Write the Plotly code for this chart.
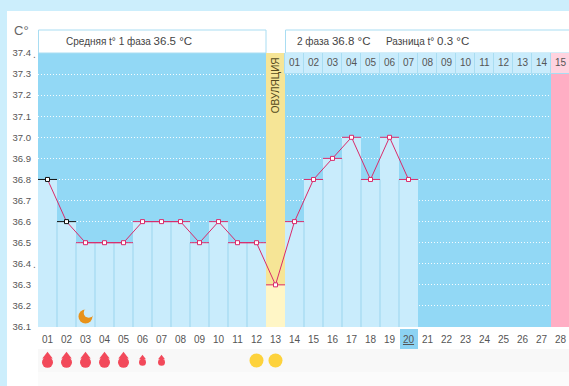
import plotly.graph_objects as go

W, H = 569, 386
days = list(range(1, 29))
day_labels = [f"{d:02d}" for d in days]
measured_days = list(range(1, 21))
temps = [36.8, 36.6, 36.5, 36.5, 36.5, 36.6, 36.6, 36.6, 36.5, 36.6,
         36.5, 36.5, 36.3, 36.6, 36.8, 36.9, 37.0, 36.8, 37.0, 36.8]
first_black = 2
ovulation_day = 13
pink_day = 28
today = 20
phase2_days = list(range(14, 29))
phase2_labels = [f"{i:02d}" for i in range(1, 16)]
y_ticks = [37.4, 37.3, 37.2, 37.1, 37.0, 36.9, 36.8, 36.7, 36.6, 36.5, 36.4, 36.3, 36.2, 36.1]
y_min, y_max = 36.1, 37.4
flow_big_days = [1, 2, 3, 4, 5]
flow_small_days = [6, 7]
sun_days = [12, 13]
moon_day = [3]
moon_temp = [36.15]

BG = "#92D8F5"; BAR = "#C9ECFC"; SEP = "#9BD5EE"; LINE = "#D92B6B"
YEL = "#F6E596"; YEL_L = "#FFF6C6"; PINK = "#FFAEC4"; PINK_L = "#FFD3DF"
SUN = "#FDD23C"; DROP = "#F2495A"; TXT = "#555555"; FONT = "Liberation Sans, Arial, sans-serif"


def px(x):
    return x / W


def py(y):
    return 1 - y / H


fig = go.Figure()
# column bars
fig.add_bar(x=[pink_day], y=[y_max - y_min], base=y_min, width=1, marker=dict(color=PINK, line_width=0))
fig.add_bar(x=[ovulation_day], y=[y_max - y_min], base=y_min, width=1, marker=dict(color=YEL, line_width=0))
bar_colors = [YEL_L if d == ovulation_day else BAR for d in measured_days]
fig.add_bar(x=measured_days, y=[t - y_min for t in temps], base=y_min, width=1,
            marker=dict(color=bar_colors, line_width=0))
# separators between bars
sx, sy = [], []
for i in range(len(temps) - 1):
    if measured_days[i] in (ovulation_day - 1, ovulation_day):
        continue
    sx += [measured_days[i] + 0.5, measured_days[i] + 0.5, None]
    sy += [y_min, min(temps[i], temps[i + 1]), None]
fig.add_scatter(x=sx, y=sy, mode="lines", line=dict(color=SEP, width=1))
# phase 2 header cells
cell_colors = [PINK_L if d == pink_day else BAR for d in phase2_days]
fig.add_bar(x=phase2_days, y=[0.1] * len(phase2_days), base=37.3, width=1,
            marker=dict(color=cell_colors, line=dict(color="#A9DDF2", width=1)))
fig.add_scatter(x=phase2_days, y=[37.35] * len(phase2_days), text=phase2_labels, mode="text",
                textfont=dict(family=FONT, size=10, color=TXT))
# temperature line
fig.add_scatter(x=measured_days, y=temps, mode="lines", line=dict(color=LINE, width=1))
fig.add_scatter(x=measured_days[first_black:], y=temps[first_black:], mode="markers",
                marker=dict(symbol="square", size=4, color="white", line=dict(color=LINE, width=1)),
                error_x=dict(type="constant", value=0.5, thickness=1, width=0, color=LINE))
fig.add_scatter(x=measured_days[:first_black], y=temps[:first_black], mode="markers",
                marker=dict(symbol="square", size=4, color="white", line=dict(color="#111111", width=1)),
                error_x=dict(type="constant", value=0.5, thickness=1, width=0, color="#111111"))
# moon
fig.add_scatter(x=moon_day, y=moon_temp, mode="markers", marker=dict(size=14, color="#E8921A"))
fig.add_scatter(x=[d + 0.17 for d in moon_day], y=[t + 0.018 for t in moon_temp], mode="markers",
                marker=dict(size=10, color=BAR))
# top sun
fig.add_scatter(x=[ovulation_day], y=[37.457], mode="markers", cliponaxis=False,
                marker=dict(size=15, color=SUN))
# icon row
fig.add_scatter(x=flow_big_days, y=[0.42] * 5, yaxis="y2", mode="markers", marker=dict(size=11, color=DROP))
fig.add_scatter(x=flow_big_days, y=[0.68] * 5, yaxis="y2", mode="markers",
                marker=dict(symbol="triangle-up", size=9, color=DROP))
fig.add_scatter(x=flow_small_days, y=[0.42] * 2, yaxis="y2", mode="markers", marker=dict(size=7, color=DROP))
fig.add_scatter(x=flow_small_days, y=[0.62] * 2, yaxis="y2", mode="markers",
                marker=dict(symbol="triangle-up", size=6, color=DROP))
fig.add_scatter(x=sun_days, y=[0.5] * 2, yaxis="y2", mode="markers", marker=dict(size=14, color=SUN))

shapes = [
    dict(type="rect", xref="paper", yref="paper", x0=-0.01, x1=px(7), y0=-0.01, y1=1.01,
         fillcolor="#CCEEFC", line_width=0, layer="below"),
    dict(type="rect", xref="paper", yref="paper", x0=-0.01, x1=1.01, y0=py(11), y1=1.01,
         fillcolor="#CCEEFC", line_width=0, layer="below"),
    dict(type="rect", xref="paper", yref="paper", x0=px(38.5), x1=px(266), y0=py(53), y1=py(30),
         fillcolor="white", line=dict(color="#A9DDF2", width=1), layer="below"),
    dict(type="rect", xref="paper", yref="paper", x0=px(285.5), x1=1.01, y0=py(53), y1=py(30),
         fillcolor="white", line=dict(color="#A9DDF2", width=1), layer="below"),
    dict(type="rect", xref="paper", yref="paper", x0=px(38), x1=1, y0=py(372), y1=py(349),
         fillcolor="#F8F8F8", line_width=0, layer="below"),
    dict(type="rect", xref="paper", yref="paper", x0=px(38), x1=1, y0=py(386), y1=py(372),
         fillcolor="#FBFBFB", line_width=0, layer="below"),
    dict(type="rect", xref="paper", yref="paper", x0=px(400), x1=px(418), y0=py(349), y1=py(329),
         fillcolor="#8CD3F3", line_width=0, layer="below"),
]


def note(x, y, text, size=10, color="#444444", xanchor="left"):
    return dict(xref="paper", yref="paper", x=px(x), y=py(y), text=text, showarrow=False, xanchor=xanchor,
                yanchor="middle", borderpad=0, font=dict(family=FONT, size=size, color=color))


big = lambda s: f"<span style='font-size:11.5px'>{s}</span>"
annotations = [
    note(13, 31, "C°", size=13, color="#666666"),
    note(65, 41, "Средняя t° 1 фаза " + big("36.5 °C")),
    note(296, 41, "2 фаза " + big("36.8 °C")),
    note(385, 41, "Разница t° " + big("0.3 °C")),
    note(32, 54, ".", color="#666666"),
    note(32, 264, ".", color="#666666"),
    dict(xref="x", yref="y", x=ovulation_day, y=37.245, text="ОВУЛЯЦИЯ", textangle=-90, showarrow=False,
         font=dict(family=FONT, size=10, color="#554A20")),
]

x_text = [f"<u>{lab}</u>" if d == today else lab for d, lab in zip(days, day_labels)]
fig.update_layout(
    width=W, height=H, margin=dict(l=0, r=0, t=0, b=0), autosize=False, showlegend=False,
    paper_bgcolor="white", plot_bgcolor=BG, barmode="overlay", bargap=0, hovermode=False,
    shapes=shapes, annotations=annotations,
    xaxis=dict(domain=[px(38), 1], range=[0.5, 0.5 + 531 / 19], tickvals=days, ticktext=x_text, showgrid=False,
               zeroline=False, showline=False, ticks="", ticklabelstandoff=5, tickangle=0, automargin=False,
               tickfont=dict(family=FONT, size=10, color=TXT), anchor="y"),
    yaxis=dict(domain=[py(327), py(53)], range=[y_min, y_max], tickvals=y_ticks, ticktext=[f"{t:.1f}" for t in y_ticks],
               showgrid=True, gridcolor="rgba(255,255,255,0.9)", griddash="1px,2px", gridwidth=1, zeroline=False, showline=False,
               ticks="", ticklabelstandoff=6, automargin=False, tickfont=dict(family=FONT, size=9.5, color=TXT), anchor="x"),
    yaxis2=dict(domain=[py(372), py(349)], range=[0, 1], visible=False, anchor="x"),
)
fig.write_html("out.html", config={"displayModeBar": False},
               post_script="document.body.style.margin='0';document.body.style.overflow='hidden';")
